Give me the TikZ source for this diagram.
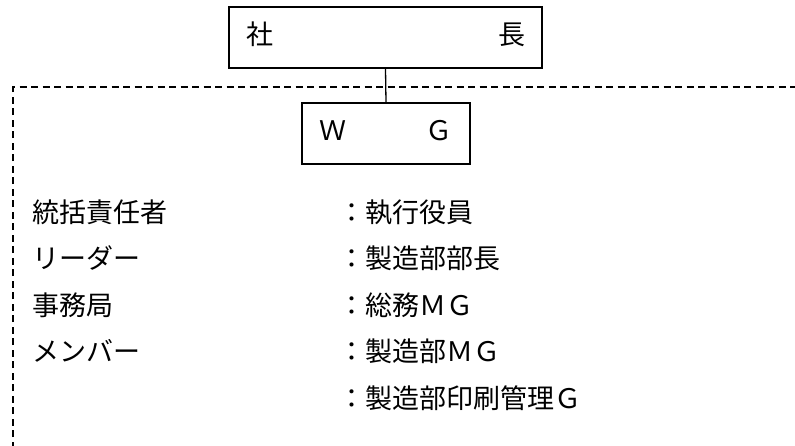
\documentclass[tikz,border=0pt]{standalone}
\usepackage{fontspec}
\setmainfont{Noto Sans CJK JP}
\begin{document}
\begin{tikzpicture}[x=1pt,y=-1pt,
  font=\fontsize{27pt}{32pt}\selectfont,
  orgbox/.style={draw, line width=1.8pt, inner sep=0pt, fill=white,
    text height=20pt, text depth=6pt},
  rowtext/.style={anchor=base west, inner sep=0pt},
  groupline/.style={line width=1.3pt, dash pattern=on 7pt off 4.5pt}]
\useasboundingbox (0,0) rectangle (795,445);
\clip (0,0) rectangle (795,445);
\fill[white] (0,0) rectangle (795,445);
% dashed group frame (continues beyond the right and bottom edges)
\coordinate (fbl) at (13,460);
\coordinate (ftl) at (13,87);
\coordinate (ftr) at (810,87);
\draw[groupline] (fbl) -- (ftl) -- (ftr);
% boxes
\node[orgbox, minimum width=313pt, minimum height=61pt] (ceo) at (385.5,37.5)
  {\hbox to 279pt{社\hfill 長}};
\node[orgbox, minimum width=168pt, minimum height=61pt] (wg) at (386,133.5)
  {\hbox to 134pt{Ｗ\hfill Ｇ}};
\draw[line width=1.3pt] (ceo.south) -- (wg.north);
% rows
\node[rowtext] (r1l) at (32,222)   {統括責任者};
\node[rowtext] (r2l) at (32,268.5) {リーダー};
\node[rowtext] (r3l) at (32,315)   {事務局};
\node[rowtext] (r4l) at (32,361.5) {メンバー};
\node[rowtext] (r1r) at (338,222)   {：執行役員};
\node[rowtext] (r2r) at (338,268.5) {：製造部部長};
\node[rowtext] (r3r) at (338,315)   {：総務ＭＧ};
\node[rowtext] (r4r) at (338,361.5) {：製造部ＭＧ};
\node[rowtext] (r5r) at (338,408)   {：製造部印刷管理Ｇ};
\end{tikzpicture}
\end{document}
